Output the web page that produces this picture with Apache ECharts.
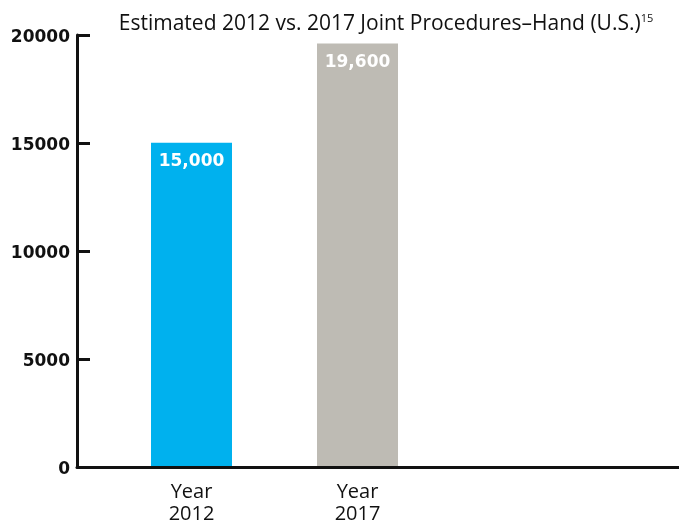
<!DOCTYPE html>
<html><head><meta charset="utf-8">
<script src="https://cdn.jsdelivr.net/npm/echarts@6/dist/echarts.min.js"></script>
<style>html,body{margin:0;padding:0;background:#fff}#c{width:679px;height:525px}</style>
</head><body><div id="c"></div>
<script>
const categories = ['Year\n2012', 'Year\n2017', ''];
const values = [15000, 19600, null];
const valueLabels = ['15,000', '19,600', ''];
const yTicks = [0, 5000, 10000, 15000, 20000];
const barColors = ['#00B1EE', '#BEBBB4'];

const chart = echarts.init(document.getElementById('c'));
const font = '"Open Sans", Lato, sans-serif';
const boldFont = '"DejaVu Sans", "Open Sans", sans-serif';
chart.setOption({
  animation: false,
  title: {
    text: 'Estimated 2012 vs. 2017 Joint Procedures–Hand (U.S.){s|15}',
    left: 381, top: 8, textAlign: 'center',
    textStyle: { fontFamily: font, fontSize: 21, fontWeight: 'normal', color: '#111',
      rich: { s: { fontFamily: font, fontSize: 11, verticalAlign: 'top', padding: [0,0,11,0], color: '#111' } } }
  },
  grid: [
    { left: 77, right: 0, top: 35, bottom: 58 },
    { left: 108.5, width: 498, top: 35, bottom: 58 }
  ],
  xAxis: [
    { gridIndex: 0, type: 'category', data: [''], axisLine: { lineStyle: { color: '#111', width: 3 } },
      axisTick: { show: false }, axisLabel: { show: false } },
    { gridIndex: 1, type: 'category', data: categories, axisLine: { show: false }, axisTick: { show: false },
      axisLabel: { fontFamily: font, fontSize: 20, color: '#111', lineHeight: 22, margin: 15 } }
  ],
  yAxis: [
    { gridIndex: 0, type: 'value', min: yTicks[0], max: yTicks[yTicks.length-1], interval: yTicks[1]-yTicks[0],
      axisLine: { show: true, lineStyle: { color: '#111', width: 3 } },
      axisTick: { show: true, inside: true, length: 13, lineStyle: { color: '#111', width: 3 } },
      splitLine: { show: false },
      axisLabel: { color: '#111', margin: 7, formatter: v => '{a|' + v + '}',
        rich: { a: { fontFamily: boldFont, fontSize: 17, fontWeight: 'bold', color: '#111', padding: [6, 0, 0, 0] } } } },
    { gridIndex: 1, type: 'value', min: yTicks[0], max: yTicks[yTicks.length-1], show: false, splitLine: { show: false } }
  ],
  series: [{
    type: 'bar', xAxisIndex: 1, yAxisIndex: 1, barWidth: 81,
    data: values.map((v, i) => ({ value: v, itemStyle: { color: barColors[i] } })),
    label: { show: true, position: 'insideTop', distance: 10, color: '#fff', fontFamily: boldFont,
      fontSize: 17, fontWeight: 'bold', formatter: p => valueLabels[p.dataIndex] }
  }]
});
</script></body></html>
